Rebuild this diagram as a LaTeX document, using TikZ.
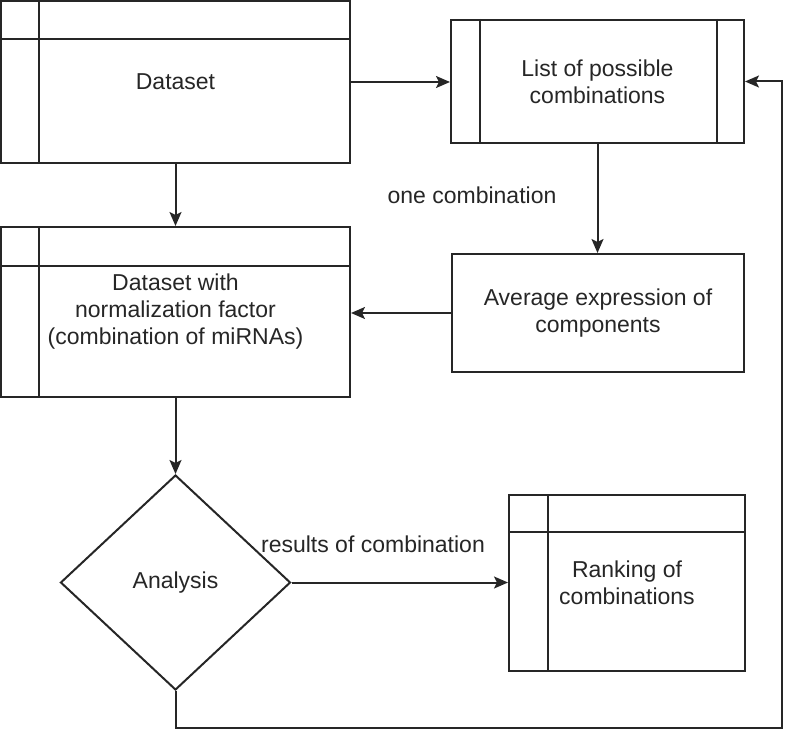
\documentclass[tikz,border=0pt]{standalone}
\usepackage{fontspec}
\setmainfont{Liberation Sans}
\usetikzlibrary{shapes.geometric,arrows.meta}
\definecolor{ink}{gray}{0.15}
\begin{document}
\begin{tikzpicture}[x=1pt,y=-1pt,
  every path/.style={line width=2pt},
  box/.style={draw=ink, line width=2pt, rectangle, inner sep=0pt, align=center, text=ink,
    font=\fontsize{23}{27}\selectfont},
  dia/.style={draw=ink, line width=2pt, diamond, inner sep=0pt, align=center, text=ink,
    font=\fontsize{23}{27}\selectfont},
  lbl/.style={text=ink, inner sep=1pt, font=\fontsize{23}{27}\selectfont},
  arr/.style={draw=ink, line width=2pt, -{Stealth[length=14pt,width=12pt,inset=3pt]}}]
\useasboundingbox (0,0) rectangle (787,733);
\node[box, minimum width=349pt, minimum height=162pt] (ds) at (175.5,82) {Dataset};
\draw[ink, line width=2pt] ([xshift=39pt]ds.north west) -- ([xshift=39pt]ds.south west);
\draw[ink, line width=2pt] ([yshift=-39pt]ds.north west) -- ([yshift=-39pt]ds.north east);

\node[box, minimum width=293pt, minimum height=123pt] (list) at (597.5,81.5) {List of possible\\combinations};
\draw[ink, line width=2pt] ([xshift=30pt]list.north west) -- ([xshift=30pt]list.south west);
\draw[ink, line width=2pt] ([xshift=-28pt]list.north east) -- ([xshift=-28pt]list.south east);

\node[box, minimum width=349pt, minimum height=170pt] (dsn) at (175.5,312) {Dataset with\\normalization factor\\(combination of miRNAs)};
\draw[ink, line width=2pt] ([xshift=39pt]dsn.north west) -- ([xshift=39pt]dsn.south west);
\draw[ink, line width=2pt] ([yshift=-40pt]dsn.north west) -- ([yshift=-40pt]dsn.north east);

\node[box, minimum width=292pt, minimum height=118pt] (avg) at (598,313) {Average expression of\\components};

\node[dia, minimum width=230pt, minimum height=215pt] (an) at (175.5,582.5) {Analysis};

\node[box, minimum width=236pt, minimum height=176pt] (rank) at (627,583) {Ranking of\\combinations};
\draw[ink, line width=2pt] ([xshift=40pt]rank.north west) -- ([xshift=40pt]rank.south west);
\draw[ink, line width=2pt] ([yshift=-38pt]rank.north west) -- ([yshift=-38pt]rank.north east);

\node[lbl] (l1) at (472,195) {one combination};
\node[lbl] (l2) at (373,544) {results of combination};

\coordinate (c1) at (782,728);

\draw[arr] (ds.east) -- (ds.east -| list.west);
\draw[arr] (ds.south) -- (dsn.north);
\draw[arr] (list.south) -- (list.south |- avg.north);
\draw[arr] (avg.west) -- (avg.west -| dsn.east);
\draw[arr] (dsn.south) -- (an.north);
\draw[arr] (an.east) -- (an.east -| rank.west);
\draw[arr] (an.south) |- (c1) |- (list.east);
\end{tikzpicture}
\end{document}
